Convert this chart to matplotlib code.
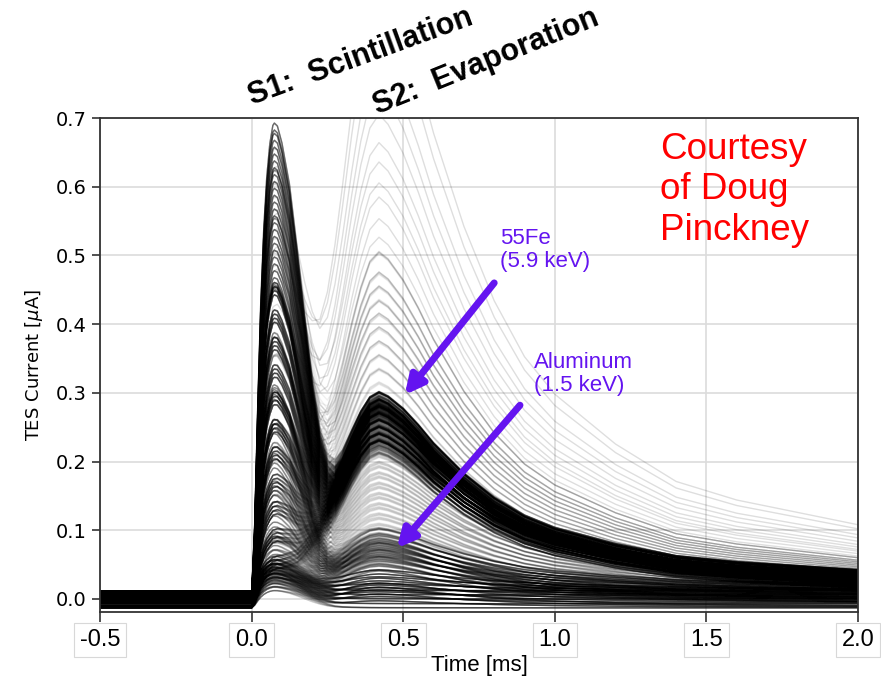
"""TES pulse traces: S1 scintillation + S2 evaporation."""
import itertools
import numpy as np
import matplotlib
matplotlib.use("Agg")
import matplotlib.pyplot as plt
from matplotlib.collections import LineCollection

# %%
# pulse templates (normalised to peak = 1)
time_ms = [-0.5, -0.4, -0.3, -0.2, -0.1, -0.005, 0.0,
           0.01, 0.02, 0.03, 0.04, 0.05, 0.06, 0.07, 0.075, 0.085, 0.1,
           0.125, 0.15, 0.175, 0.2, 0.225, 0.25, 0.275, 0.3,
           0.33, 0.36, 0.39, 0.42, 0.45, 0.5, 0.55, 0.6,
           0.7, 0.8, 0.9, 1.0, 1.2, 1.4, 1.6, 1.8, 2.0]
s1_shape = [0, 0, 0, 0, 0, 0, 0.0,
            0.15, 0.4, 0.62, 0.78, 0.89, 0.96, 0.995, 1.0, 0.99, 0.95,
            0.85, 0.7, 0.53, 0.36, 0.22, 0.12, 0.06, 0.035,
            0.022, 0.016, 0.012, 0.01, 0.009, 0.008, 0.007, 0.006,
            0.005, 0.004, 0.003, 0.002, 0.001, 0.0, 0.0, 0.0, 0.0]
s2_shape = [0, 0, 0, 0, 0, 0, 0.0,
            0, 0, 0, 0, 0, 0, 0.01, 0.01, 0.02, 0.03,
            0.06, 0.1, 0.17, 0.25, 0.33, 0.43, 0.54, 0.65,
            0.78, 0.89, 0.97, 1.0, 0.98, 0.92, 0.84, 0.75,
            0.6, 0.48, 0.39, 0.33, 0.25, 0.19, 0.16, 0.14, 0.12]

# event populations: S1 amplitudes, S2 amplitudes, baseline offsets [uA]
fe_s1 = [0.05, 0.09, 0.13, 0.17, 0.21, 0.25, 0.29, 0.33, 0.37, 0.41, 0.45]
fe_s2 = [0.22, 0.23, 0.24, 0.25, 0.26, 0.27, 0.275, 0.28, 0.285, 0.29]
fe_off = [-0.01, -0.004, 0.002, 0.008]

fe_hi_s1 = [0.47, 0.49, 0.51, 0.53, 0.55, 0.57, 0.59, 0.61, 0.63, 0.65, 0.67, 0.685]
fe_hi_s2 = [0.23, 0.25, 0.27, 0.29]
fe_hi_off = [-0.005, 0.005]

al_s1 = [0.04, 0.06, 0.08, 0.1, 0.13, 0.16, 0.2, 0.25, 0.3]
al_s2 = [0.05, 0.06, 0.07, 0.08, 0.09]
al_off = [-0.01, -0.003, 0.004, 0.011]

mid_s1 = [0.08, 0.15, 0.22, 0.3, 0.38, 0.45]
mid_s2 = [0.1, 0.115, 0.13, 0.145, 0.16, 0.175, 0.19, 0.205]
mid_off = [0.0, 0.006]

low_s1 = [0.025, 0.03, 0.035, 0.04, 0.045, 0.05]
low_s2 = [0.0, 0.01, 0.02, 0.03]
low_off = [-0.013, -0.007, 0.0, 0.006, 0.012]

# light fan of larger S2 events
fan_s1 = [0.25, 0.35, 0.45, 0.55, 0.62]
fan_s2 = [0.31, 0.33, 0.35, 0.37, 0.39, 0.41, 0.43, 0.45, 0.47, 0.5]

# sparse big S2 events
big_s1 = [0.45, 0.5, 0.55, 0.6, 0.62, 0.4, 0.52, 0.58, 0.48, 0.65,
          0.35, 0.5, 0.56, 0.6, 0.42, 0.53, 0.47, 0.62, 0.55, 0.5]
big_s2 = [0.33, 0.35, 0.37, 0.39, 0.41, 0.43, 0.45, 0.47, 0.5, 0.52,
          0.55, 0.58, 0.6, 0.63, 0.66, 0.7, 0.74, 0.78, 0.85, 0.9]

xticks = [-0.5, 0.0, 0.5, 1.0, 1.5, 2.0]
yticks = [0.0, 0.1, 0.2, 0.3, 0.4, 0.5, 0.6, 0.7]

# %%
t = np.array(time_ms)
s1 = np.array(s1_shape)
s2 = np.array(s2_shape)


def traces(pairs):
    return [np.column_stack([t, a1 * s1 + a2 * s2 + off]) for a1, a2, off in pairs]


fig = plt.figure(figsize=(8.81, 6.81), dpi=100)
ax = fig.add_axes([0.1135, 0.1013, 0.8605, 0.7254])

groups = [
    (itertools.product(low_s1, low_s2, low_off), 0.2),
    (itertools.product(al_s1, al_s2, al_off), 0.12),
    (itertools.product(mid_s1, mid_s2, mid_off), 0.08),
    (itertools.product(fan_s1, fan_s2, [0.0]), 0.06),
    (itertools.product(fe_s1, fe_s2, fe_off), 0.12),
    (itertools.product(fe_hi_s1, fe_hi_s2, fe_hi_off), 0.2),
    (((a, b, 0.0) for a, b in zip(big_s1, big_s2)), 0.13),
]
for pairs, alpha in groups:
    lc = LineCollection(traces(pairs), colors="black", linewidths=1.0, alpha=alpha)
    ax.add_collection(lc)

ax.set_xlim(-0.5, 2.0)
ax.set_ylim(-0.019, 0.7)
ax.set_xticks(xticks)
ax.set_yticks(yticks)
ax.set_xticklabels(["%.1f" % v for v in xticks], family="Liberation Sans", fontsize=17,
                   bbox=dict(boxstyle="square,pad=0.25", fc="white", ec="#d8d8d8", lw=0.8))
ax.set_yticklabels(["%.1f" % v for v in yticks], fontsize=14, family="DejaVu Sans")
ax.tick_params(axis="x", length=7, width=1.2, pad=5, color="#333333")
ax.tick_params(axis="y", length=6, width=1.2, color="#333333")
ax.grid(True, color="#dcdcdc", lw=1.2)
ax.set_axisbelow(True)
for sp in ax.spines.values():
    sp.set_color("#333333")
    sp.set_linewidth(1.3)

ax.set_xlabel("Time [ms]", fontsize=16, family="Liberation Sans", labelpad=3)
ax.set_ylabel("TES Current [$\\mu$A]", fontsize=13, family="DejaVu Sans", labelpad=8)

# annotations
purple = "#6414f0"
ax.annotate("", xy=(0.505, 0.297), xytext=(0.80, 0.46),
            arrowprops=dict(arrowstyle="-|>,head_length=1.1,head_width=0.55",
                            lw=5, color=purple, shrinkA=0, shrinkB=0))
ax.annotate("", xy=(0.479, 0.074), xytext=(0.885, 0.282),
            arrowprops=dict(arrowstyle="-|>,head_length=1.1,head_width=0.55",
                            lw=5, color=purple, shrinkA=0, shrinkB=0))
ax.text(0.818, 0.54, "55Fe\n(5.9 keV)", color=purple, fontsize=16,
        family="Liberation Sans", va="top", ha="left", linespacing=1.15)
ax.text(0.93, 0.36, "Aluminum\n(1.5 keV)", color=purple, fontsize=16,
        family="Liberation Sans", va="top", ha="left", linespacing=1.15)
ax.text(1.347, 0.68, "Courtesy\nof Doug\nPinckney", color="red", fontsize=26.5,
        family="Liberation Sans", va="top", ha="left", linespacing=1.2)

fig.text(252 / 881, 1 - 105 / 681, "S1:  Scintillation", rotation=20,
         rotation_mode="anchor", ha="left", va="baseline", fontsize=22,
         fontweight="bold", family="Liberation Sans")
fig.text(377 / 881, 1 - 115 / 681, "S2:  Evaporation", rotation=22,
         rotation_mode="anchor", ha="left", va="baseline", fontsize=22,
         fontweight="bold", family="Liberation Sans")

fig.savefig("out.png", dpi=100)
